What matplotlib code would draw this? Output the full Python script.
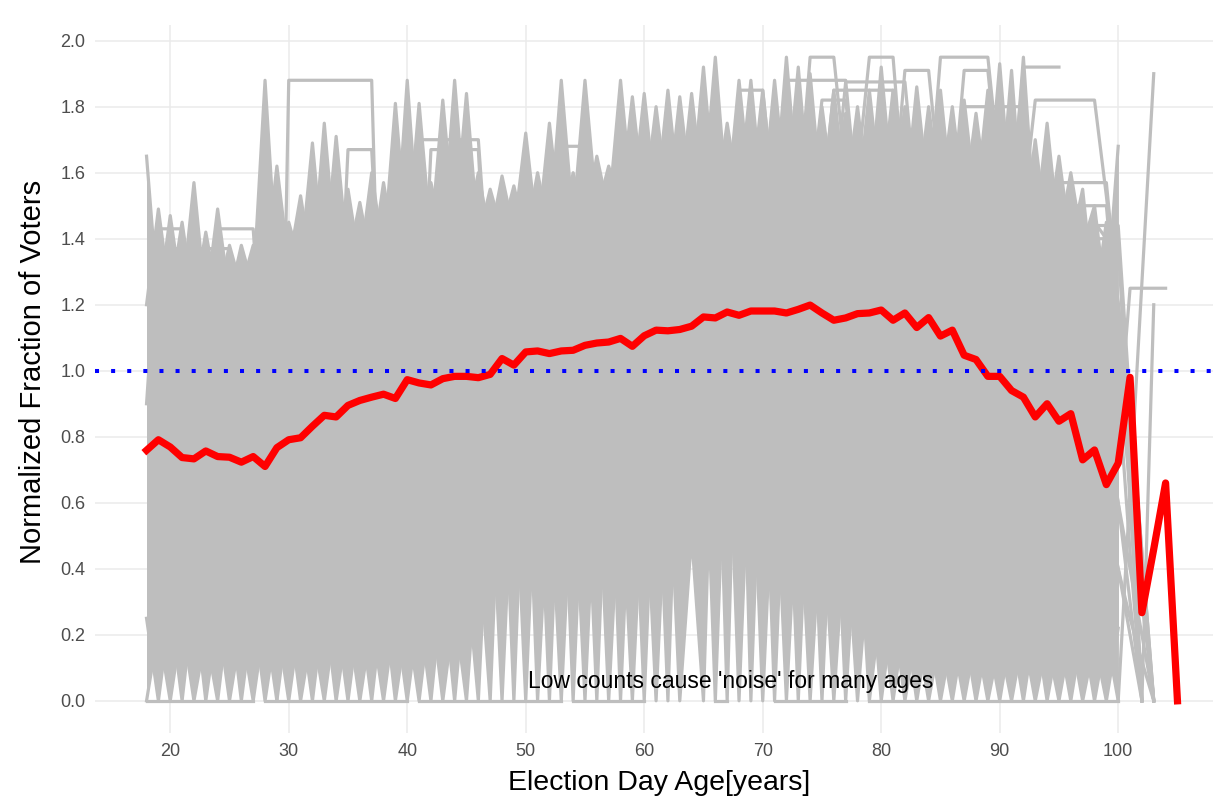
import numpy as np
import matplotlib.pyplot as plt

plt.rcParams['font.family'] = ['Liberation Sans', 'DejaVu Sans']

GRAY = '#BEBEBE'

# ages covered by the bulk of the noisy (per-group) lines
ages = list(range(18, 101))

# lower zig-zag of the noisy lines (touching zero on alternating ages)
low_a = [0, 0.22, 0, 0.24, 0, 0.20, 0, 0.30, 0, 0.28, 0, 0.24, 0, 0.26, 0, 0.30,
         0, 0.25, 0, 0.24, 0, 0.27, 0, 0.28, 0, 0.36, 0, 0.40, 0,
         0.75, 0, 0.80, 0, 0.85, 0, 0.90, 0, 0.85, 0, 0.95, 0, 0.85, 0, 0.90, 0,
         1.10, 0.50, 1.00, 0, 1.00, 0, 0.90, 0, 0.80, 0, 0.70, 0, 0.60, 0, 0.55, 0, 0.45,
         0, 0.28, 0, 0.22, 0, 0.20, 0, 0.22, 0, 0.20, 0, 0.22, 0, 0.24, 0, 0.20,
         0, 0.22, 0, 0.20, 0]
low_b = [0.25, 0, 0.28, 0, 0.32, 0, 0.26, 0, 0.22, 0, 0.25, 0, 0.28, 0, 0.22, 0,
         0.27, 0, 0.28, 0, 0.32, 0, 0.25, 0, 0.30, 0, 0.28, 0, 0.50,
         0, 0.90, 0, 0.95, 0, 0.70, 0, 0.75, 0, 0.80, 0, 0.70, 0, 0.75, 0, 0.80,
         0, 0.50, 0, 1.20, 0, 1.30, 0, 1.00, 0, 0.90, 0, 0.85, 0, 0.80, 0, 0.60, 0,
         0.30, 0, 0.26, 0, 0.22, 0, 0.20, 0, 0.20, 0, 0.18, 0, 0.20, 0, 0.18, 0,
         0.20, 0, 0.18, 0, 0.22]

# upper zig-zag (spikes) of the noisy lines
top_a = [1.65, 1.20, 1.47, 1.22, 1.57, 1.20, 1.49, 1.22, 1.38, 1.25, 1.88, 1.30,
         1.45, 1.32, 1.69, 1.30, 1.71, 1.33, 1.51, 1.32, 1.57, 1.35, 1.88, 1.38,
         1.57, 1.40, 1.88, 1.42, 1.60, 1.40, 1.59, 1.42, 1.72, 1.40, 1.75, 1.42,
         1.60, 1.45, 1.65, 1.48, 1.88, 1.50, 1.84, 1.50, 1.85, 1.50, 1.84, 1.52,
         1.95, 1.50, 1.88, 1.52, 1.85, 1.50, 1.95, 1.52, 1.90, 1.50, 1.85, 1.52,
         1.80, 1.50, 1.92, 1.52, 1.80, 1.50, 1.80, 1.52, 1.80, 1.50, 1.78, 1.50,
         1.93, 1.48, 1.95, 1.42, 1.75, 1.40, 1.60, 1.38, 1.50, 1.20, 1.68]
top_b = [1.20, 1.49, 1.22, 1.45, 1.20, 1.42, 1.22, 1.38, 1.25, 1.38, 1.30, 1.62,
         1.32, 1.53, 1.30, 1.75, 1.33, 1.55, 1.32, 1.60, 1.35, 1.81, 1.38, 1.81,
         1.40, 1.82, 1.42, 1.84, 1.40, 1.55, 1.42, 1.56, 1.40, 1.60, 1.42, 1.88,
         1.45, 1.88, 1.48, 1.62, 1.50, 1.83, 1.50, 1.80, 1.50, 1.83, 1.52, 1.92,
         1.50, 1.75, 1.52, 1.88, 1.50, 1.88, 1.52, 1.92, 1.50, 1.80, 1.52, 1.78,
         1.50, 1.85, 1.52, 1.85, 1.50, 1.86, 1.52, 1.85, 1.50, 1.82, 1.50, 1.85,
         1.48, 1.91, 1.42, 1.70, 1.40, 1.65, 1.38, 1.55, 1.20, 1.45, 1.10]

# runs of zeros along the bottom (first age, last age)
zero_runs = [(18, 27), (28, 40), (41, 53), (54, 60), (66, 67), (71, 77), (79, 100)]

# groups with flat stretches (same value over several ages)
flat_lines = [
    ([18, 19, 20, 21, 22], [0.90, 1.43, 1.43, 1.43, 1.00]),
    ([19, 20, 21, 22, 23, 24, 25, 26], [1.00, 1.37, 1.37, 1.37, 1.37, 1.37, 1.37, 0.80]),
    ([23, 24, 25, 26, 27, 28], [1.00, 1.43, 1.43, 1.43, 1.43, 0.90]),
    ([29, 30, 31, 32, 33, 34, 35, 36, 37, 38], [0.0, 1.88, 1.88, 1.88, 1.88, 1.88, 1.88, 1.88, 1.88, 0.60]),
    ([34, 35, 36, 37, 38], [0.90, 1.67, 1.67, 1.67, 1.00]),
    ([40, 41, 42, 43, 44, 45, 46, 47], [1.00, 1.70, 1.70, 1.70, 1.70, 1.70, 1.70, 1.20]),
    ([41, 42, 43, 44, 45, 46, 47], [0.90, 1.67, 1.67, 1.67, 1.67, 1.67, 1.00]),
    ([52, 53, 54, 55, 56], [1.20, 1.68, 1.68, 1.68, 1.30]),
    ([67, 68, 69, 70, 71], [1.40, 1.85, 1.85, 1.85, 1.50]),
    ([73, 74, 75, 76, 77], [1.50, 1.95, 1.95, 1.95, 1.60]),
    ([71, 72, 73, 74, 75, 76, 77, 78], [1.50, 1.88, 1.88, 1.88, 1.88, 1.88, 1.88, 1.50]),
    ([74, 75, 76, 77, 78], [1.50, 1.82, 1.82, 1.82, 1.50]),
    ([78, 79, 80, 81, 82], [1.60, 1.95, 1.95, 1.95, 1.50]),
    ([76, 77, 78, 79, 80, 81, 82, 83], [1.50, 1.875, 1.875, 1.875, 1.875, 1.875, 1.875, 1.50]),
    ([75, 76, 77, 78, 79, 80, 81, 82], [1.50, 1.85, 1.85, 1.85, 1.85, 1.85, 1.85, 1.50]),
    ([81, 82, 83, 84, 85], [1.50, 1.91, 1.91, 1.91, 1.55]),
    ([84, 85, 86, 87, 88, 89, 90], [1.50, 1.95, 1.95, 1.95, 1.95, 1.95, 1.60]),
    ([86, 87, 88, 89, 90], [1.50, 1.91, 1.91, 1.91, 1.55]),
    ([86, 87, 88, 89, 90, 91, 92, 93], [1.50, 1.80, 1.80, 1.80, 1.80, 1.80, 1.80, 1.45]),
    ([91, 92, 93, 94, 95], [1.50, 1.92, 1.92, 1.92, 1.92]),
    ([92, 93, 94, 95, 96, 97, 98, 99, 100, 101, 102],
     [1.50, 1.82, 1.82, 1.82, 1.82, 1.82, 1.82, 1.53, 1.20, 0.60, 0.0]),
    ([91, 92, 93, 94, 95, 96, 97, 98, 99, 100, 101, 102],
     [1.40, 1.57, 1.57, 1.57, 1.57, 1.57, 1.57, 1.57, 1.57, 1.20, 0.70, 0.0]),
    ([92, 93, 94, 95, 96, 97, 98, 99, 100, 101, 102, 103],
     [1.30, 1.50, 1.50, 1.50, 1.50, 1.50, 1.50, 1.50, 1.10, 0.70, 0.35, 0.0]),
    ([94, 95, 96, 97, 98, 99, 100, 101, 102, 103],
     [1.30, 1.44, 1.44, 1.44, 1.44, 1.44, 1.44, 0.90, 0.45, 0.0]),
    ([94, 95, 96, 97, 98, 99, 100, 101, 102],
     [1.20, 1.40, 1.40, 1.40, 1.40, 1.40, 1.40, 0.70, 0.0]),
    ([100, 101, 102, 103, 104], [0.80, 1.25, 1.25, 1.25, 1.25]),
]

# oldest ages: few voters, lines run down to zero
tail_lines = [
    ([98, 99, 100, 101, 102, 103], [1.45, 1.40, 1.20, 0.80, 0.40, 0.0]),
    ([99, 100, 101, 102, 103], [1.30, 1.05, 0.70, 0.35, 0.0]),
    ([99, 100, 101, 102], [1.20, 0.95, 0.45, 0.0]),
    ([100, 101, 102, 103], [1.00, 0.65, 0.30, 0.0]),
    ([100, 101, 102, 103], [1.20, 0.90, 0.45, 0.0]),
    ([97, 98, 99, 100, 101, 102, 103], [1.10, 0.95, 0.80, 0.60, 0.40, 0.20, 0.0]),
    ([98, 99, 100, 101, 102, 103], [0.70, 0.55, 0.40, 0.25, 0.12, 0.0]),
    ([99, 100, 101, 102], [0.60, 0.40, 0.20, 0.0]),
    ([98, 99, 100, 101, 102], [1.00, 0.85, 0.60, 0.30, 0.0]),
    ([100, 103], [0.0, 1.90]),
    ([102, 103], [0.0, 1.20]),
]

# overall normalised fraction (all groups)
red_ages = list(range(18, 106))
red_vals = [0.759, 0.791, 0.769, 0.737, 0.733, 0.757, 0.740, 0.738, 0.723, 0.740,
            0.710, 0.767, 0.791, 0.797, 0.832, 0.865, 0.860, 0.895, 0.910, 0.920,
            0.929, 0.916, 0.973, 0.963, 0.957, 0.976, 0.983, 0.983, 0.979, 0.989,
            1.037, 1.017, 1.057, 1.060, 1.052, 1.060, 1.062, 1.077, 1.084, 1.087,
            1.098, 1.074, 1.106, 1.123, 1.121, 1.125, 1.135, 1.163, 1.160, 1.178,
            1.168, 1.181, 1.181, 1.181, 1.175, 1.186, 1.199, 1.175, 1.153, 1.160,
            1.173, 1.175, 1.184, 1.153, 1.175, 1.131, 1.161, 1.105, 1.123, 1.047,
            1.034, 0.983, 0.983, 0.940, 0.920, 0.860, 0.900, 0.847, 0.870, 0.730,
            0.760, 0.655, 0.720, 0.980, 0.267, 0.460, 0.660, 0.0]

x_ticks = [20, 30, 40, 50, 60, 70, 80, 90, 100]
y_ticks = [0.0, 0.2, 0.4, 0.6, 0.8, 1.0, 1.2, 1.4, 1.6, 1.8, 2.0]

fig = plt.figure(figsize=(12.15, 8), dpi=100)
ax = fig.add_axes([95/1215, 1 - 733/800, 1118/1215, 708/800])

# solid mass of the noisy lines
for lo in (low_a, low_b):
    for hi in (top_a, top_b):
        ax.fill_between(ages, lo, hi, color=GRAY, lw=0, zorder=2)

line_kw = dict(color=GRAY, lw=2.3, solid_joinstyle='round', zorder=2)
for ys in (low_a, low_b, top_a, top_b):
    ax.plot(ages, ys, **line_kw)
for a0, a1 in zero_runs:
    ax.plot([a0, a1], [0, 0], **line_kw)
for xs, ys in flat_lines + tail_lines:
    ax.plot(xs, ys, **line_kw)

ax.plot(red_ages, red_vals, color='red', lw=5.2, solid_joinstyle='round', zorder=3)
ax.axhline(1.0, color='blue', lw=2.9, linestyle=(0, (1, 3)), dash_capstyle='butt', zorder=4)

ax.text(67.3, 0.06, "Low counts cause 'noise' for many ages", ha='center', va='center',
        fontsize=16.5, color='black', zorder=5)

ax.set_xlim(13.65, 108.0)
ax.set_ylim(-0.0975, 2.0475)
ax.set_xticks(x_ticks)
ax.set_yticks(y_ticks)
ax.set_yticklabels(['%.1f' % v for v in y_ticks])
ax.tick_params(length=0, labelsize=13, labelcolor='#4D4D4D', pad=7)
ax.grid(True, color='#EBEBEB', lw=1.1)
ax.set_axisbelow(True)
for s in ax.spines.values():
    s.set_visible(False)

ax.set_xlabel('Election Day Age[years]', fontsize=20.5, va='center')
ax.xaxis.set_label_coords(0.5045, -0.0706)
ax.set_ylabel('Normalized Fraction of Voters', fontsize=21, va='center')
ax.yaxis.set_label_coords(-0.0555, 0.51)

fig.savefig('out.png', dpi=100, facecolor='white')
